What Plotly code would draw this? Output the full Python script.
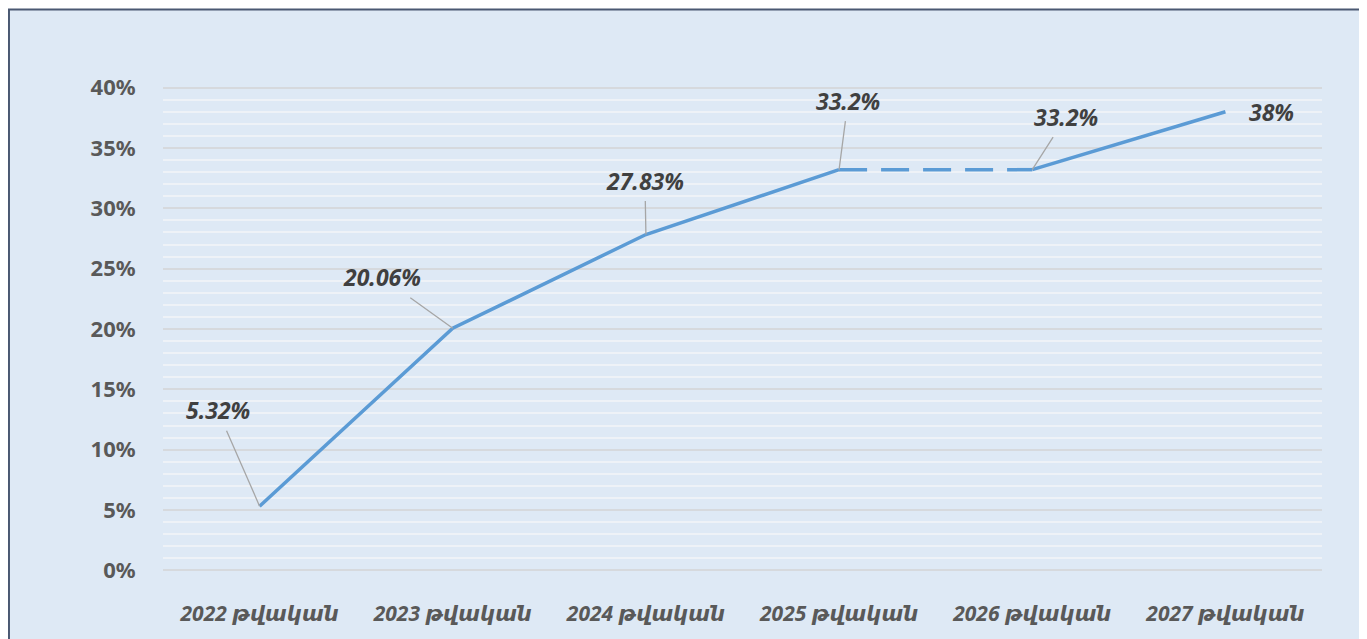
import plotly.graph_objects as go

# Datos del gráfico
years = ["2022 թվական", "2023 թվական", "2024 թվական", "2025 թվական", "2026 թվական", "2027 թվական"]
values = [5.32, 20.06, 27.83, 33.2, 33.2, 38]
labels = ["5.32%", "20.06%", "27.83%", "33.2%", "33.2%", "38%"]
y_ticks = [0, 5, 10, 15, 20, 25, 30, 35, 40]

# desplazamiento de cada etiqueta respecto a su punto (px)
label_offsets = [(-42, -96), (-71, -51), (-1, -54), (9, -69), (34, -53), (46, 0)]

blue = "#5b9bd5"
bg = "#dee9f5"
font_fam = "Noto Sans, DejaVu Sans, sans-serif"

fig = go.Figure()

# tramo sólido 2022-2025, tramo punteado 2025-2026, tramo sólido 2026-2027
fig.add_trace(go.Scatter(x=years[:4], y=values[:4], mode="lines",
                         line=dict(color=blue, width=3.5), hoverinfo="skip"))
fig.add_trace(go.Scatter(x=years[3:5], y=values[3:5], mode="lines",
                         line=dict(color=blue, width=3.5, dash="28px,14px"), hoverinfo="skip"))
fig.add_trace(go.Scatter(x=years[4:], y=values[4:], mode="lines",
                         line=dict(color=blue, width=3.5), hoverinfo="skip"))

# etiquetas de datos con líneas guía
for yr, v, txt, (dx, dy) in zip(years, values, labels, label_offsets):
    if dy == 0:
        fig.add_annotation(x=yr, y=v, text=f"<b><i>{txt}</i></b>", showarrow=False,
                           xshift=dx, font=dict(size=23, color="#404040", family=font_fam))
    else:
        fig.add_annotation(x=yr, y=v, text=f"<b><i>{txt}</i></b>", showarrow=True,
                           ax=dx, ay=dy, arrowhead=0, arrowwidth=1.3, arrowcolor="#a6a6a6",
                           borderpad=4,
                           font=dict(size=23, color="#404040", family=font_fam))

# marco de fondo
fig.add_shape(type="rect", xref="paper", yref="paper",
              x0=-0.1329, x1=1.0345, y0=-0.2, y1=1.152,
              fillcolor=bg, line=dict(color="#4a5872", width=2), layer="below")

# la página añade 8px de margen al cuerpo
fig.update_layout(
    width=1359, height=631,
    margin=dict(l=155, r=45, t=76, b=62),
    paper_bgcolor="white",
    plot_bgcolor="rgba(0,0,0,0)",
    showlegend=False,
    font=dict(family=font_fam),
)

fig.update_xaxes(
    type="category", range=[-0.5, 5.5], showgrid=False, zeroline=False, showline=False,
    tickvals=years, ticktext=[f"<b><i>{t}</i></b>" for t in years],
    tickfont=dict(size=21, color="#595959", family=font_fam),
    ticks="outside", ticklen=0, ticklabelstandoff=21,
)
fig.update_yaxes(
    range=[-0.3, 40.3], tickvals=y_ticks, ticktext=[f"<b>{t}%</b>" for t in y_ticks],
    tickfont=dict(size=22, color="#595959", family=font_fam),
    showgrid=True, gridcolor="#d6d9dd", gridwidth=1.5,
    minor=dict(dtick=1, showgrid=True, gridcolor="#eef2f7", gridwidth=1.5),
    zeroline=False, showline=False, ticks="outside", ticklen=0, ticklabelstandoff=22,
)

fig.write_html("out.html")
